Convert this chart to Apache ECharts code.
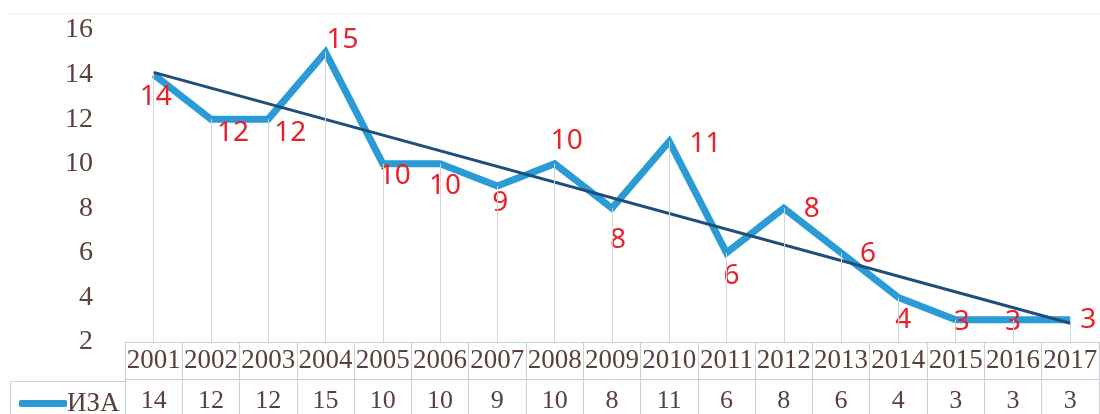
<!DOCTYPE html>
<html>
<head>
<meta charset="utf-8">
<script src="https://cdn.jsdelivr.net/npm/echarts@6/dist/echarts.min.js"></script>
<style>
  html, body { margin: 0; padding: 0; background: #fff; }
  #chart { width: 1100px; height: 414px; }
</style>
</head>
<body>
<div id="chart"></div>
<script>
// Annual counts of the ИЗА index, 2001–2017
const years = ['2001','2002','2003','2004','2005','2006','2007','2008','2009',
               '2010','2011','2012','2013','2014','2015','2016','2017'];
const seriesName = 'ИЗА';
const izaValues = [14, 12, 12, 15, 10, 10, 9, 10, 8, 11, 6, 8, 6, 4, 3, 3, 3];
// linear trend line, values at the first and last year
const trendEnds = [14.1, 2.84];
const yTicks = [2, 4, 6, 8, 10, 12, 14, 16];

// label offsets (px) from each point, for readability
const labelOffsets = [[2,22],[22,14],[22,14],[17,-12],[12,12],[5,22],[3,17],[12,-23],
  [6,32],[36,3],[5,23],[28,1],[27,1],[5,23],[6,2],[0,2],[18,0]];

const BLUE = '#2b9bd6';
const NAVY = '#1f4e7a';
const RED = '#e8222c';
const TXT = '#5a403a';
const BORDER = '#c9d1d9';
const serif = '"Liberation Serif", "DejaVu Serif", serif';

const chart = echarts.init(document.getElementById('chart'));

const yMin = yTicks[0], yMax = yTicks[yTicks.length - 1];

chart.setOption({
  animation: false,
  backgroundColor: '#fff',
  grid: { left: 125, right: -6, top: 30, bottom: 70, containLabel: false },
  legend: {
    data: [{ name: seriesName, icon: 'roundRect', itemStyle: { color: BLUE } }],
    left: 14, top: 385,
    itemWidth: 48, itemHeight: 7, itemGap: 0,
    itemStyle: { color: BLUE },
    textStyle: { fontFamily: serif, fontSize: 27, color: TXT, padding: [0, 0, 0, -5] },
    selectedMode: false
  },
  xAxis: [
    {
      type: 'category', data: years, position: 'bottom', boundaryGap: true,
      axisLine: { show: true, lineStyle: { color: BORDER, width: 1 } },
      axisTick: { show: true, interval: 0, length: 37, lineStyle: { color: BORDER } },
      axisLabel: { interval: 0, margin: 5, fontFamily: serif, fontSize: 27, color: TXT },
      splitLine: { show: false }
    },
    {
      type: 'category', data: years, position: 'bottom', offset: 37, boundaryGap: true,
      axisLine: { show: true, lineStyle: { color: BORDER, width: 1 } },
      axisTick: { show: true, interval: 0, length: 40, lineStyle: { color: BORDER } },
      axisLabel: {
        interval: 0, margin: 9, fontFamily: serif, fontSize: 26, color: TXT,
        formatter: (v, i) => String(izaValues[i])
      },
      splitLine: { show: false }
    }
  ],
  yAxis: {
    type: 'value', min: yMin, max: yMax, interval: 2,
    axisLine: { show: false }, axisTick: { show: false },
    splitLine: { show: false },
    axisLabel: { margin: 32, fontFamily: serif, fontSize: 28, color: TXT }
  },
  graphic: [
    { type: 'line', shape: { x1: 8, y1: 14, x2: 1100, y2: 14 },
      style: { stroke: '#eeeeee', lineWidth: 1 }, silent: true },
    { type: 'line', shape: { x1: 10.5, y1: 381.5, x2: 125, y2: 381.5 },
      style: { stroke: BORDER, lineWidth: 1 }, silent: true },
    { type: 'line', shape: { x1: 10.5, y1: 381.5, x2: 10.5, y2: 414 },
      style: { stroke: BORDER, lineWidth: 1 }, silent: true }
  ],
  series: [
    {
      // drop lines from each point down to the axis
      name: 'drop', type: 'line', data: izaValues, z: 1,
      showSymbol: false, lineStyle: { opacity: 0 }, silent: true,
      markLine: {
        silent: true, symbol: ['none', 'none'], label: { show: false },
        lineStyle: { color: '#d4d4d4', width: 1, type: 'solid' },
        data: izaValues.map((v, i) => [{ coord: [i, v] }, { coord: [i, yMin] }])
      }
    },
    {
      name: seriesName, type: 'line', z: 3,
      data: izaValues.map((v, i) => ({
        value: v,
        label: { offset: labelOffsets[i] }
      })),
      color: BLUE,
      lineStyle: { color: BLUE, width: 7, join: 'miter' },
      symbol: 'circle', symbolSize: 1, showSymbol: true,
      itemStyle: { color: 'rgba(0,0,0,0)' },
      label: {
        show: true, position: 'inside',
        fontFamily: '"Noto Sans", "Open Sans", sans-serif', fontSize: 28, color: RED
      }
    },
    {
      name: 'trend', type: 'line', z: 4,
      data: [[years[0], trendEnds[0]], [years[years.length - 1], trendEnds[1]]],
      showSymbol: false, symbol: 'none',
      lineStyle: { color: NAVY, width: 3 }, silent: true
    }
  ]
});
</script>
</body>
</html>
